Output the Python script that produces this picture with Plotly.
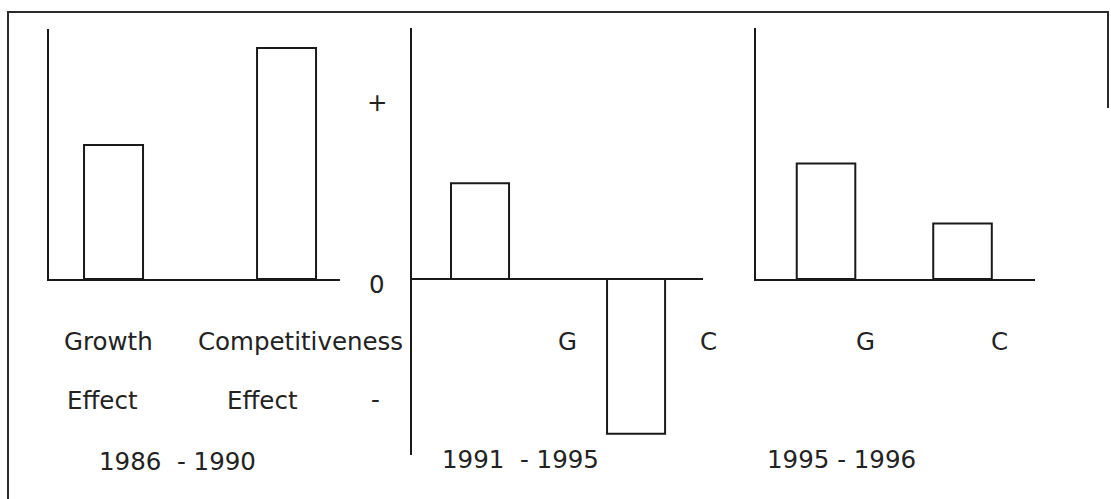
import plotly.graph_objects as go

# ---- data (arbitrary effect units) ----
p1_categories = ["Growth Effect", "Competitiveness Effect"]
p1_values = [5.8, 10.0]
p2_categories = ["G", "C"]
p2_values = [4.15, -6.7]
p3_categories = ["G", "C"]
p3_values = [5.0, 2.4]

p1_labels_row1 = ["Growth", "Competitiveness"]
p1_labels_row2 = ["Effect", "Effect"]
p2_labels = ["G", "C"]
p3_labels = ["G", "C"]
period_labels = ["1986\u00a0\u00a0- 1990", "1991\u00a0\u00a0- 1995", "1995 - 1996"]
sign_labels = ["+", "0", "-"]

W, H = 1111, 499
def X(px):
    return px / W
def Y(py):
    return 1 - py / H

INK = "#1a1a1a"
TXT = "#222222"
FONT = dict(family="DejaVu Sans", size=24.5, color=TXT)

fig = go.Figure()
bar_style = dict(marker=dict(color="white", line=dict(color=INK, width=2)), showlegend=False,
                 hoverinfo="x+y")
fig.add_trace(go.Bar(x=p1_categories, y=p1_values, width=0.341, xaxis="x", yaxis="y", **bar_style))
fig.add_trace(go.Bar(x=p2_categories, y=p2_values, width=0.372, xaxis="x2", yaxis="y2", **bar_style))
fig.add_trace(go.Bar(x=p3_categories, y=p3_values, width=0.429, xaxis="x3", yaxis="y3", **bar_style))

def xa(domain, rng, showline):
    return dict(domain=domain, range=rng, type="category", showline=showline, linecolor=INK,
                linewidth=2, showticklabels=False, ticks="", showgrid=False, zeroline=False,
                fixedrange=True)

def ya(domain, rng, anchor, zeroline):
    return dict(domain=domain, range=rng, anchor=anchor, showline=True, linecolor=INK, linewidth=2,
                showticklabels=False, ticks="", showgrid=False, zeroline=zeroline,
                zerolinecolor=INK, zerolinewidth=2, fixedrange=True)

fig.update_layout(
    width=W, height=H,
    margin=dict(l=0, r=0, t=0, b=0),
    paper_bgcolor="white", plot_bgcolor="rgba(0,0,0,0)",
    bargap=0,
    xaxis=xa([X(49), X(340)], [-0.373, 1.309], True) | dict(anchor="y"),
    yaxis=ya([Y(279), Y(29)], [0, 10.823], "x", False),
    xaxis2=xa([X(412), X(703)], [-0.436, 1.429], False) | dict(anchor="y2"),
    yaxis2=ya([Y(455), Y(28)], [-7.619, 10.866], "x2", True),
    xaxis3=xa([X(756), X(1035)], [-0.513, 1.531], True) | dict(anchor="y3"),
    yaxis3=ya([Y(279), Y(28)], [0, 10.866], "x3", False),
)

# outer frame of the scanned figure
frame = dict(type="line", xref="paper", yref="paper", line=dict(color="#2a2a2a", width=2))
fig.add_shape(x0=X(7), x1=X(1109), y0=Y(12), y1=Y(12), **frame)
fig.add_shape(x0=X(8), x1=X(8), y0=Y(12), y1=Y(499), **frame)
fig.add_shape(x0=X(1108), x1=X(1108), y0=Y(12), y1=Y(108), **frame)

def note(text, px, py):
    fig.add_annotation(text=text, x=X(px), y=Y(py), xref="paper", yref="paper",
                       xanchor="center", yanchor="middle", showarrow=False, font=FONT)

# panel 1 labels
for t, px in zip(p1_labels_row1, [108, 300]):
    note(t, px, 341)
for t, px in zip(p1_labels_row2, [102, 262]):
    note(t, px, 400)
# sign markers
for t, (px, py) in zip(sign_labels, [(377, 103), (377, 284), (375, 399)]):
    note(t, px, py)
# panel 2 / 3 labels
for t, px in zip(p2_labels, [567, 708]):
    note(t, px, 341)
for t, px in zip(p3_labels, [865, 999]):
    note(t, px, 341)
# period labels
for t, (px, py) in zip(period_labels, [(177, 461), (520, 459), (841, 459)]):
    note(t, px, py)

fig.write_html("out.html", config={"displayModeBar": False, "staticPlot": True},
               post_script="document.body.style.margin='0px';"
               "document.body.style.overflow='hidden';")
